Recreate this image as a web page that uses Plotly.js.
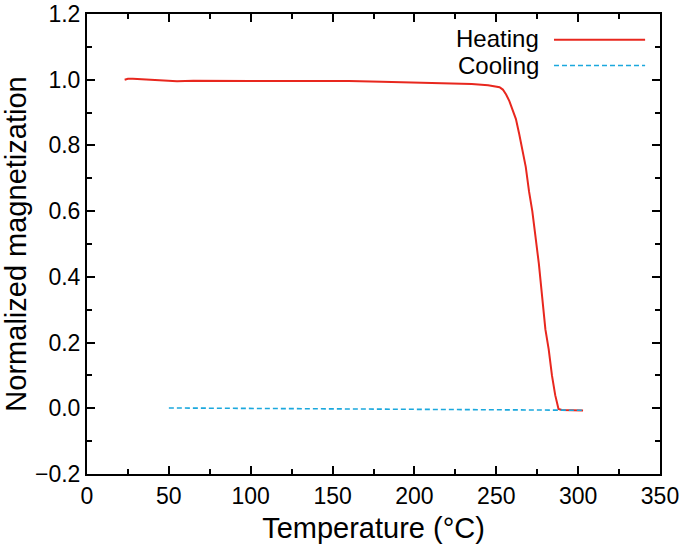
<!DOCTYPE html>
<html>
<head>
<meta charset="utf-8">
<script src="https://cdn.plot.ly/plotly-3.0.1.min.js"></script>
<style>html,body{margin:0;padding:0;background:#fff;}#chart{width:685px;height:552px;}</style>
</head>
<body>
<div id="chart"></div>
<script>
const heatingT = [23, 25, 28, 35, 45, 55, 65, 80, 100, 120, 140, 160, 180, 200, 220, 235, 245, 250, 252, 254, 256, 258, 260, 262, 264, 266, 268, 270, 272, 274, 276, 278, 280, 282, 284, 286, 288, 290, 295, 300, 303];
const heatingM = [1.000, 1.003, 1.003, 1.001, 0.997, 0.995, 0.997, 0.996, 0.996, 0.996, 0.997, 0.996, 0.994, 0.992, 0.990, 0.987, 0.983, 0.980, 0.977, 0.970, 0.955, 0.935, 0.910, 0.880, 0.835, 0.785, 0.735, 0.660, 0.600, 0.520, 0.440, 0.340, 0.240, 0.180, 0.100, 0.040, -0.002, -0.005, -0.006, -0.007, -0.007];
const coolingT = [50, 100, 150, 200, 250, 290, 303];
const coolingM = [0.001, 0.000, -0.001, -0.003, -0.004, -0.005, -0.006];
const seriesNames = ["Heating", "Cooling"];
const xTitle = "Temperature (°C)";
const yTitle = "Normalized magnetization";

const FONT = "Arial, 'Liberation Sans', sans-serif";
const red = "#E8271E";
const blue = "#1BA8DD";

const traces = [
  {x: heatingT, y: heatingM, mode: "lines", name: seriesNames[0], line: {color: red, width: 2}, showlegend: false},
  {x: coolingT, y: coolingM, mode: "lines", name: seriesNames[1], line: {color: blue, width: 1.6, dash: "5px,3px"}, showlegend: false}
];

const axisCommon = {
  showline: true, linewidth: 2, linecolor: "#000", mirror: "allticks",
  ticks: "inside", ticklen: 8, tickwidth: 2, tickcolor: "#000",
  showgrid: false, zeroline: false, ticklabeloverflow: "allow",
  tickfont: {family: FONT, size: 23, color: "#000"}
};

const layout = {
  width: 685, height: 552,
  margin: {l: 87, r: 25, t: 14, b: 78},
  paper_bgcolor: "#fff", plot_bgcolor: "#fff",
  font: {family: FONT, color: "#000"},
  xaxis: Object.assign({}, axisCommon, {
    range: [0, 350], dtick: 50, tick0: 0,
    minor: {dtick: 25, ticks: "inside", ticklen: 5, tickwidth: 2, tickcolor: "#000"},
    title: {text: xTitle, font: {family: FONT, size: 29, color: "#000"}, standoff: 10}
  }),
  yaxis: Object.assign({}, axisCommon, {
    range: [-0.2, 1.2], dtick: 0.2, tick0: 0, tickformat: ".1f",
    minor: {dtick: 0.1, ticks: "inside", ticklen: 5, tickwidth: 2, tickcolor: "#000"},
    title: {text: yTitle, font: {family: FONT, size: 29, color: "#000"}, standoff: 8}
  }),
  annotations: [
    {xref: "paper", yref: "paper", x: 0.793, y: 0.946, xanchor: "right", yanchor: "middle", text: seriesNames[0], showarrow: false, font: {family: FONT, size: 24, color: "#000"}},
    {xref: "paper", yref: "paper", x: 0.793, y: 0.888, xanchor: "right", yanchor: "middle", text: seriesNames[1], showarrow: false, font: {family: FONT, size: 24, color: "#000"}}
  ],
  shapes: [
    {type: "line", xref: "paper", yref: "paper", x0: 0.815, x1: 0.974, y0: 0.944, y1: 0.944, line: {color: red, width: 2}},
    {type: "line", xref: "paper", yref: "paper", x0: 0.815, x1: 0.974, y0: 0.888, y1: 0.888, line: {color: blue, width: 1.6, dash: "5px,3px"}}
  ]
};

Plotly.newPlot("chart", traces, layout, {displayModeBar: false, staticPlot: true});
</script>
</body>
</html>
